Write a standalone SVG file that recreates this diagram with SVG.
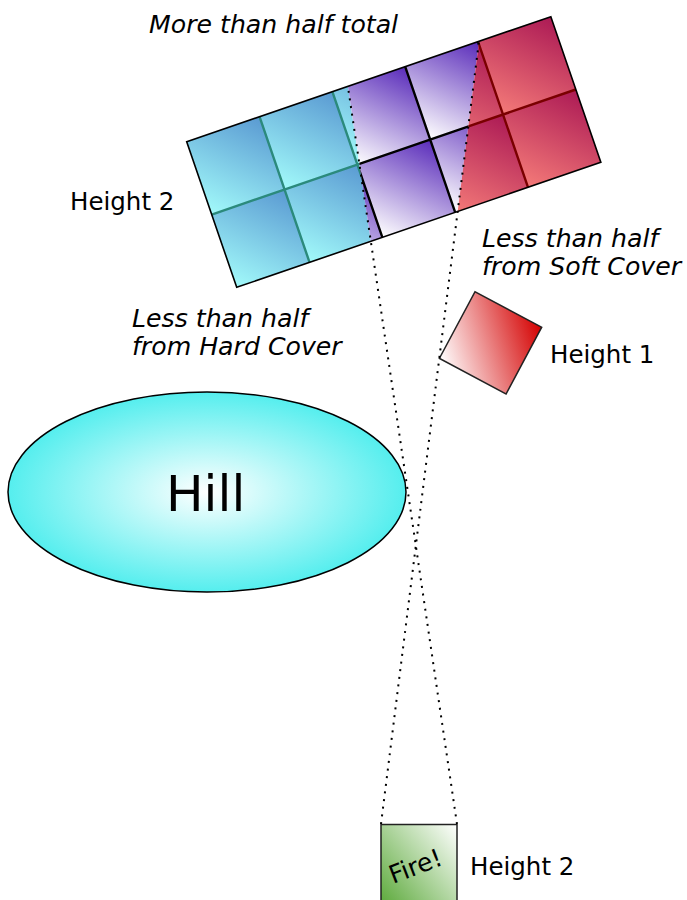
<svg xmlns="http://www.w3.org/2000/svg" width="687" height="900" viewBox="0 0 687 900">
  <style>
    .lbl { font-family: "DejaVu Sans", "Liberation Sans", sans-serif; font-size: 24.5px; fill: #000; }
    .it { font-style: italic; font-size: 25.2px; }
    .cellC { fill: url(#gCyan); }
    .cellP { fill: url(#gPurple); }
    .cellR { fill: url(#gRed); }
    .grid { fill: none; stroke-width: 2.4; }
    .sight { fill: none; stroke: #000; stroke-width: 2; stroke-dasharray: 2 5.7; }
  </style>
  <defs>
    <linearGradient id="gCyan" x1="1" y1="0" x2="0" y2="1">
      <stop offset="0" stop-color="#5a9ad2"/>
      <stop offset="1" stop-color="#a2fafa"/>
    </linearGradient>
    <linearGradient id="gPurple" x1="1" y1="0" x2="0" y2="1">
      <stop offset="0" stop-color="#5a2cba"/>
      <stop offset="1" stop-color="#ffffff"/>
    </linearGradient>
    <linearGradient id="gRed" x1="1" y1="0" x2="0" y2="1">
      <stop offset="0" stop-color="#ac1a55"/>
      <stop offset="1" stop-color="#f47a78"/>
    </linearGradient>
    <linearGradient id="gSmallRed" x1="1" y1="0" x2="0" y2="1">
      <stop offset="0" stop-color="#d40000"/>
      <stop offset="1" stop-color="#ffffff"/>
    </linearGradient>
    <linearGradient id="gGreen" x1="0" y1="1" x2="1" y2="0">
      <stop offset="0" stop-color="#4ea22a"/>
      <stop offset="1" stop-color="#ffffff"/>
    </linearGradient>
    <radialGradient id="gHill" cx="0.5" cy="0.5" r="0.5">
      <stop offset="0" stop-color="#ffffff"/>
      <stop offset="1" stop-color="#55eeee"/>
    </radialGradient>
    <clipPath id="clipC"><polygon points="0,-10 333.7,-10 457,824 0,824"/></clipPath>
    <clipPath id="clipP"><polygon points="333.7,-10 485.4,-10 415.8,545.7"/></clipPath>
    <clipPath id="clipR"><polygon points="485.4,-10 700,-10 700,824 381,824"/></clipPath>
    <g id="cellsTpl">
      <rect x="0" y="0" width="77" height="77"/>
      <rect x="77" y="0" width="77" height="77"/>
      <rect x="154" y="0" width="77" height="77"/>
      <rect x="231" y="0" width="77" height="77"/>
      <rect x="308" y="0" width="77" height="77"/>
      <rect x="0" y="77" width="77" height="77"/>
      <rect x="77" y="77" width="77" height="77"/>
      <rect x="154" y="77" width="77" height="77"/>
      <rect x="231" y="77" width="77" height="77"/>
      <rect x="308" y="77" width="77" height="77"/>
    </g>
    <path id="gridTpl" d="M77,0V154M154,0V154M231,0V154M308,0V154M0,77H385"/>
  </defs>

  <g id="target">
    <g clip-path="url(#clipC)">
      <g transform="translate(186.7,141.7) rotate(-18.95)">
        <use href="#cellsTpl" class="cellC"/>
        <use href="#gridTpl" class="grid" stroke="#2b8a7c"/>
      </g>
    </g>
    <g clip-path="url(#clipP)">
      <g transform="translate(186.7,141.7) rotate(-18.95)">
        <use href="#cellsTpl" class="cellP"/>
        <use href="#gridTpl" class="grid" stroke="#000000"/>
      </g>
    </g>
    <g clip-path="url(#clipR)">
      <g transform="translate(186.7,141.7) rotate(-18.95)">
        <use href="#cellsTpl" class="cellR"/>
        <use href="#gridTpl" class="grid" stroke="#7a0000"/>
      </g>
    </g>
    <rect transform="translate(186.7,141.7) rotate(-18.95)" x="0" y="0" width="385" height="154" fill="none" stroke="#000" stroke-width="1.6"/>
  </g>

  <g id="hill">
    <ellipse cx="207" cy="492" rx="199" ry="100" fill="url(#gHill)" stroke="#000" stroke-width="1.5"/>
    <text class="lbl" x="166" y="511" style="font-size:50px">Hill</text>
  </g>

  <g id="softcover">
    <rect transform="translate(475,291.7) rotate(28.1)" x="0" y="0" width="75.6" height="75.6" fill="url(#gSmallRed)" stroke="#222" stroke-width="1.5"/>
  </g>

  <g id="shooter">
    <rect x="381" y="824.5" width="76" height="95" fill="url(#gGreen)" stroke="#222" stroke-width="1.5"/>
    <text class="lbl" transform="translate(393,884) rotate(-21)" x="0" y="0" style="font-size:25px">Fire!</text>
  </g>

  <g id="connectors">
    <line class="sight" x1="457" y1="824" x2="348" y2="87"/>
    <line class="sight" x1="381" y1="824" x2="479" y2="41"/>
  </g>

  <g id="labels">
    <text class="lbl it" x="149" y="33">More than half total</text>
    <text class="lbl" x="70" y="210">Height 2</text>
    <text class="lbl it" x="482" y="247">Less than half</text>
    <text class="lbl it" x="482" y="275">from Soft Cover</text>
    <text class="lbl it" x="132" y="327">Less than half</text>
    <text class="lbl it" x="132" y="355">from Hard Cover</text>
    <text class="lbl" x="550" y="363">Height 1</text>
    <text class="lbl" x="470" y="875">Height 2</text>
  </g>
</svg>
